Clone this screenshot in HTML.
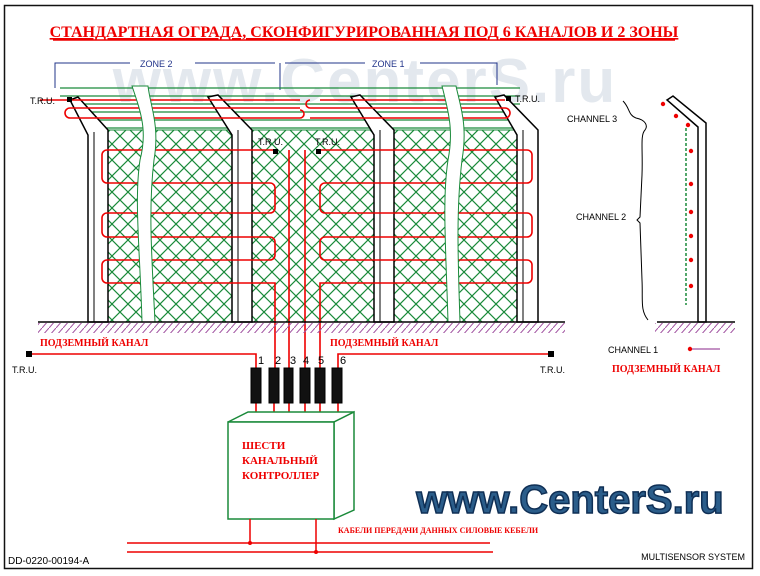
<!DOCTYPE html>
<html><head><meta charset="utf-8"><style>
html,body{margin:0;padding:0;background:#fff;}
svg{display:block;}
text{font-family:"Liberation Sans",sans-serif;}
.ru{font-family:"Liberation Serif","DejaVu Serif",serif;font-weight:bold;fill:#e00;}
</style></head><body>
<svg width="760" height="576" viewBox="0 0 760 576" xmlns="http://www.w3.org/2000/svg">
<defs>
<pattern id="mesh" width="16" height="16" patternUnits="userSpaceOnUse">
<path d="M0,0 L16,16 M16,0 L0,16" stroke="#1a8a3a" stroke-width="1.2"/>
</pattern>
<pattern id="hatch" width="7" height="8" patternUnits="userSpaceOnUse">
<path d="M0,8 L7,0" stroke="#a050a0" stroke-width="1"/>
</pattern>
</defs>
<rect x="4.5" y="5.5" width="748" height="563" fill="none" stroke="#111" stroke-width="1.5"/>
<text x="365" y="102" font-size="62" font-weight="bold" fill="#e3e8ee" text-anchor="middle" letter-spacing="2">www.CenterS.ru</text>
<text x="364" y="37" class="ru" font-size="16" text-anchor="middle" text-decoration="underline">СТАНДАРТНАЯ ОГРАДА, СКОНФИГУРИРОВАННАЯ ПОД 6 КАНАЛОВ И 2 ЗОНЫ</text>
<line x1="53" y1="40" x2="675" y2="40" stroke="#e00" stroke-width="1.5"/>
<g stroke="#22348a" stroke-width="1" fill="none">
<path d="M55,88 V63 H130 M195,63 H275 M285,63 H365 M420,63 H497 V85"/>
<path d="M280,63 V90"/>
</g>
<text x="140" y="67" font-size="9" fill="#22348a">ZONE 2</text>
<text x="372" y="67" font-size="9" fill="#22348a">ZONE 1</text>
<g stroke="#1a8a3a" stroke-width="1.2">
<line x1="60" y1="88" x2="520" y2="88"/><line x1="60" y1="96" x2="520" y2="96"/>
<line x1="80" y1="104" x2="520" y2="104"/><line x1="80" y1="112" x2="520" y2="112"/>
<line x1="90" y1="120" x2="520" y2="120"/><line x1="100" y1="128" x2="520" y2="128"/>
</g>
<rect x="108" y="130" width="124" height="192" fill="url(#mesh)"/>
<rect x="252" y="130" width="122" height="192" fill="url(#mesh)"/>
<rect x="394" y="130" width="123" height="192" fill="url(#mesh)"/>
<g stroke="#1a8a3a" fill="none" stroke-width="1"><rect x="108" y="130" width="124" height="192"/><rect x="252" y="130" width="122" height="192"/><rect x="394" y="130" width="123" height="192"/></g>
<g fill="#fff" stroke="#000" stroke-width="1.5">
<path d="M70,100 L78,97 L108,130 L108,322 L88,322 L88,135 Z"/>
<path d="M208,97 L218,95 L252,130 L252,322 L232,322 L232,135 Z"/>
<path d="M351,97 L360,95 L394,130 L394,322 L374,322 L374,135 Z"/>
<path d="M495,97 L504,95 L538,130 L538,322 L517,322 L517,135 Z"/>
</g>
<g stroke="#000" stroke-width="1"><line x1="94" y1="132" x2="94" y2="322"/><line x1="238" y1="130" x2="238" y2="322"/><line x1="380" y1="130" x2="380" y2="322"/><line x1="523" y1="130" x2="523" y2="322"/></g>
<g stroke="#e00" stroke-width="1.6" fill="none">
<path d="M40,100 H300 M300,108 H70 a5,5 0 0 0 0,10 H300 a4,4 0 0 0 0,-8"/>
<path d="M310,100 a4,4 0 0 0 0,8 H505 a5,5 0 0 1 0,10 H310 M505,100 H320"/>
<path d="M275,150 H107 a5,5 0 0 0 -5,5 V178 a5,5 0 0 0 5,5 H270 a5,5 0 0 1 5,5 V208 a5,5 0 0 1 -5,5 H107 a5,5 0 0 0 -5,5 V232 a5,5 0 0 0 5,5 H270 a5,5 0 0 1 5,5 V255 a5,5 0 0 1 -5,5 H107 a5,5 0 0 0 -5,5 V278 a5,5 0 0 0 5,5 H275 V372"/>
<path d="M320,150 H527 a5,5 0 0 1 5,5 V178 a5,5 0 0 1 -5,5 H325 a5,5 0 0 0 -5,5 V208 a5,5 0 0 0 5,5 H527 a5,5 0 0 1 5,5 V232 a5,5 0 0 1 -5,5 H325 a5,5 0 0 0 -5,5 V255 a5,5 0 0 0 5,5 H527 a5,5 0 0 1 5,5 V278 a5,5 0 0 1 -5,5 H320 V372"/>
<path d="M289,150 V372 M305,150 V372"/>
</g>
<g fill="#fff" stroke="#1a8a3a" stroke-width="1">
<path d="M132,86 C140,110 148,130 140,160 C134,200 140,250 142,322 L155,322 C152,260 148,210 154,160 C160,125 150,105 148,86 Z"/>
<path d="M442,86 C448,110 454,130 448,160 C442,200 446,250 448,322 L460,322 C458,260 456,210 462,160 C468,125 460,105 456,86 Z"/>
</g>
<line x1="38" y1="322" x2="565" y2="322" stroke="#000" stroke-width="1.5"/>
<rect x="38" y="323" width="527" height="10" fill="url(#hatch)"/>
<g font-size="9" fill="#000"><text x="30" y="104">T.R.U.</text><text x="515" y="102">T.R.U.</text><text x="258" y="145">T.R U.</text><text x="315" y="145">T.R.U.</text><text x="12" y="373">T.R.U.</text><text x="540" y="373">T.R.U.</text></g>
<g fill="#000"><rect x="67" y="97" width="5" height="5"/><rect x="506" y="96" width="5" height="5"/><rect x="273" y="149" width="5" height="5"/><rect x="316" y="149" width="5" height="5"/><rect x="26" y="351" width="6" height="6"/><rect x="548" y="351" width="6" height="6"/></g>
<text x="40" y="346" class="ru" font-size="10">ПОДЗЕМНЫЙ КАНАЛ</text>
<text x="330" y="346" class="ru" font-size="10">ПОДЗЕМНЫЙ КАНАЛ</text>
<g stroke="#e00" stroke-width="1.6" fill="none">
<path d="M32,354 H256 V372"/><path d="M548,354 H338 V372"/>
<path d="M256,403 V420 M274,403 V420 M289,403 V420 M305,403 V420 M320,403 V420 M338,403 V420"/>
</g>
<g fill="#111" stroke="#000"><rect x="251" y="368" width="10" height="35"/><rect x="269" y="368" width="10" height="35"/><rect x="284" y="368" width="9" height="35"/><rect x="300" y="368" width="10" height="35"/><rect x="315" y="368" width="10" height="35"/><rect x="332" y="368" width="10" height="35"/></g>
<g font-size="11" fill="#000"><text x="258" y="364">1</text><text x="275" y="364">2</text><text x="290" y="364">3</text><text x="303" y="364">4</text><text x="318" y="364">5</text><text x="340" y="364">6</text></g>
<g fill="#fff" stroke="#1a8a3a" stroke-width="1.5"><path d="M228,422 L248,412 L354,412 L334,422 Z"/><path d="M334,422 L354,412 L354,510 L334,519 Z"/><rect x="228" y="422" width="106" height="97"/></g>
<text x="242" y="449" class="ru" font-size="11">ШЕСТИ</text>
<text x="242" y="464" class="ru" font-size="11">КАНАЛЬНЫЙ</text>
<text x="242" y="479" class="ru" font-size="11">КОНТРОЛЛЕР</text>
<g stroke="#e00" stroke-width="1.5" fill="none"><path d="M250,519 V543 M316,519 V552 M127,543 H490 M127,552 H493"/></g>
<circle cx="250" cy="543" r="2" fill="#e00"/><circle cx="316" cy="552" r="2" fill="#e00"/>
<text x="338" y="533" class="ru" font-size="8">КАБЕЛИ ПЕРЕДАЧИ ДАННЫХ СИЛОВЫЕ КЕБЕЛИ</text>
<text x="570" y="513" font-size="40" font-weight="bold" fill="#2b5d8a" stroke="#0f2f55" stroke-width="1.5" text-anchor="middle">www.CenterS.ru</text>
<text x="8" y="564" font-size="10" fill="#000">DD-0220-00194-A</text>
<text x="745" y="560" font-size="9" fill="#000" text-anchor="end">MULTISENSOR SYSTEM</text>
<g fill="#fff" stroke="#000" stroke-width="1.5"><path d="M667,100 L673,96 L706,123 L706,322 L698,322 L698,127 Z"/></g>
<line x1="686" y1="128" x2="686" y2="305" stroke="#1a8a3a" stroke-width="1.5" stroke-dasharray="3,2"/>
<g fill="#e00"><circle cx="663" cy="104" r="2.2"/><circle cx="676" cy="116" r="2.2"/><circle cx="688" cy="125" r="2.2"/><circle cx="691" cy="151" r="2.2"/><circle cx="691" cy="184" r="2.2"/><circle cx="691" cy="212" r="2.2"/><circle cx="691" cy="236" r="2.2"/><circle cx="691" cy="260" r="2.2"/><circle cx="691" cy="286" r="2.2"/><circle cx="690" cy="349" r="2.2"/></g>
<line x1="692" y1="349" x2="720" y2="349" stroke="#a050a0" stroke-width="1.2"/>
<line x1="657" y1="322" x2="735" y2="322" stroke="#000" stroke-width="1.5"/>
<rect x="655" y="323" width="80" height="10" fill="url(#hatch)"/>
<path d="M623,101 C630,108 628,115 636,118 C646,120 648,126 645,130 C640,135 643,150 642,175 L640,217 L637,220 L640,223 L642,280 C643,300 640,310 648,320" stroke="#000" fill="none" stroke-width="1"/>
<g font-size="9" fill="#000"><text x="567" y="122">CHANNEL 3</text><text x="576" y="220">CHANNEL 2</text><text x="608" y="353">CHANNEL 1</text></g>
<text x="612" y="372" class="ru" font-size="10">ПОДЗЕМНЫЙ КАНАЛ</text>
</svg>
</body></html>
